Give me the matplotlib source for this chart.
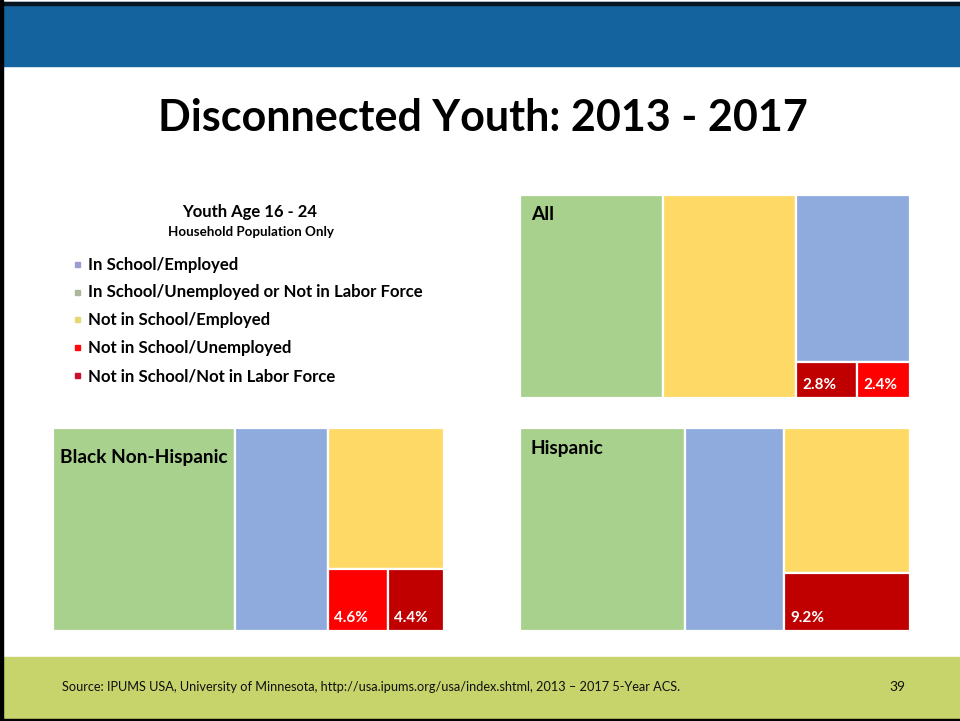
import matplotlib
matplotlib.use("Agg")
import matplotlib.pyplot as plt
from matplotlib.patches import Rectangle

plt.rcParams['font.family'] = ['Lato', 'DejaVu Sans']

# ---------------- data ----------------
title = "Disconnected Youth: 2013 - 2017"
legend_title = "Youth Age 16 - 24"
legend_subtitle = "Household Population Only"
categories = ["In School/Employed",
              "In School/Unemployed or Not in Labor Force",
              "Not in School/Employed",
              "Not in School/Unemployed",
              "Not in School/Not in Labor Force"]
cat_colors = {"In School/Employed": "#8FAADC",
              "In School/Unemployed or Not in Labor Force": "#A9D18E",
              "Not in School/Employed": "#FFD966",
              "Not in School/Unemployed": "#FF0000",
              "Not in School/Not in Labor Force": "#C00000"}
legend_marker_colors = ["#9C9CD0", "#A9B898", "#E2D874", "#FF0A0A", "#C8102E"]

# panel: All
all_cats = ["In School/Unemployed or Not in Labor Force", "Not in School/Employed",
            "In School/Employed", "Not in School/Not in Labor Force", "Not in School/Unemployed"]
all_vals = [36.7, 34.1, 24.0, 2.8, 2.4]
# panel: Black Non-Hispanic
black_cats = ["In School/Unemployed or Not in Labor Force", "In School/Employed",
              "Not in School/Employed", "Not in School/Unemployed", "Not in School/Not in Labor Force"]
black_vals = [46.5, 23.9, 20.6, 4.6, 4.4]
# panel: Hispanic
hisp_cats = ["In School/Unemployed or Not in Labor Force", "In School/Employed",
             "Not in School/Employed", "Not in School/Not in Labor Force"]
hisp_vals = [42.2, 25.6, 23.0, 9.2]

labelled = ["Not in School/Unemployed", "Not in School/Not in Labor Force"]
source_text = ("Source: IPUMS USA, University of Minnesota, http://usa.ipums.org/usa/index.shtml, "
               "2013 \u2013 2017 5-Year ACS.")
page_number = "39"

# ---------------- figure ----------------
W, H = 960, 721
fig = plt.figure(figsize=(W / 100, H / 100), dpi=100)
bg = fig.add_axes([0, 0, 1, 1])
bg.set_xlim(0, W)
bg.set_ylim(H, 0)
bg.axis('off')

# slide bands / borders
bg.add_patch(Rectangle((0, 2), W, 63.5, color="#15639E", zorder=1))
bg.add_patch(Rectangle((0, 657), W, 62, color="#C6D46B", zorder=1))
bg.add_patch(Rectangle((0, 1.5), W, 3, color="#05141E", zorder=2))
bg.add_patch(Rectangle((0, 0), 2.5, H, color="#000000", zorder=2))
bg.add_patch(Rectangle((0, 718.5), W, 3, color="#000000", zorder=2))

bg.text(483, 118, title, ha='center', va='center', fontsize=31, fontweight='bold',
        color='black')

# legend
bg.text(250, 212, legend_title, ha='center', va='center', fontsize=12, fontweight='bold')
bg.text(251, 232, legend_subtitle, ha='center', va='center', fontsize=9.6, fontweight='bold')
leg_y = [265, 292.5, 320, 348, 376]
for cat, col, yy in zip(categories, legend_marker_colors, leg_y):
    bg.add_patch(Rectangle((74.5, yy - 3), 5, 5, color=col, zorder=3))
    bg.text(88, yy, cat, ha='left', va='center', fontsize=12.1, fontweight='bold')

# footer
bg.text(62, 687, source_text, ha='left', va='center', fontsize=9.2, color='#111111')
bg.text(897, 687, page_number, ha='center', va='center', fontsize=10, color='#111111')


def layout(values, x, y, w, h):
    """Slice the remaining rectangle along its longer side, one item at a time."""
    rects = []
    vals = list(values)
    while vals:
        v = vals.pop(0)
        if not vals:
            rects.append((x, y, w, h))
            break
        frac = v / (v + sum(vals))
        if w >= h:
            cw = w * frac
            rects.append((x, y, cw, h))
            x, w = x + cw, w - cw
        else:
            ch = h * frac
            rects.append((x, y + h - ch, w, ch))
            h = h - ch
    return rects


def treemap(px, name, cats, vals, name_off):
    x0, y0, x1, y1 = px
    ax = fig.add_axes([x0 / W, 1 - y1 / H, (x1 - x0) / W, (y1 - y0) / H])
    aw, ah = x1 - x0, y1 - y0
    ax.set_xlim(0, aw)
    ax.set_ylim(0, ah)
    ax.axis('off')
    for cat, v, (rx, ry, rw, rh) in zip(cats, vals, layout(vals, 0, 0, aw, ah)):
        ax.add_patch(Rectangle((rx, ry), rw, rh, facecolor=cat_colors[cat],
                               edgecolor='white', linewidth=1.6))
        if cat in labelled:
            ax.annotate(f"{v:.1f}%", xy=(rx, ry), xytext=(6, 6), textcoords='offset pixels',
                        ha='left', va='bottom', fontsize=11, fontweight='bold', color='white')
    ax.annotate(name, xy=(0, ah), xytext=name_off, textcoords='offset pixels',
                ha='left', va='center', fontsize=13.8, fontweight='bold', color='black')
    return ax


treemap((520, 195, 910, 398), "All", all_cats, all_vals, (11, -20))
treemap((52.7, 428.3, 444.3, 630.7), "Black Non-Hispanic", black_cats, black_vals, (7, -29))
treemap((520, 428.3, 910, 630.7), "Hispanic", hisp_cats, hisp_vals, (10, -20))

fig.savefig("out.png", dpi=100)
